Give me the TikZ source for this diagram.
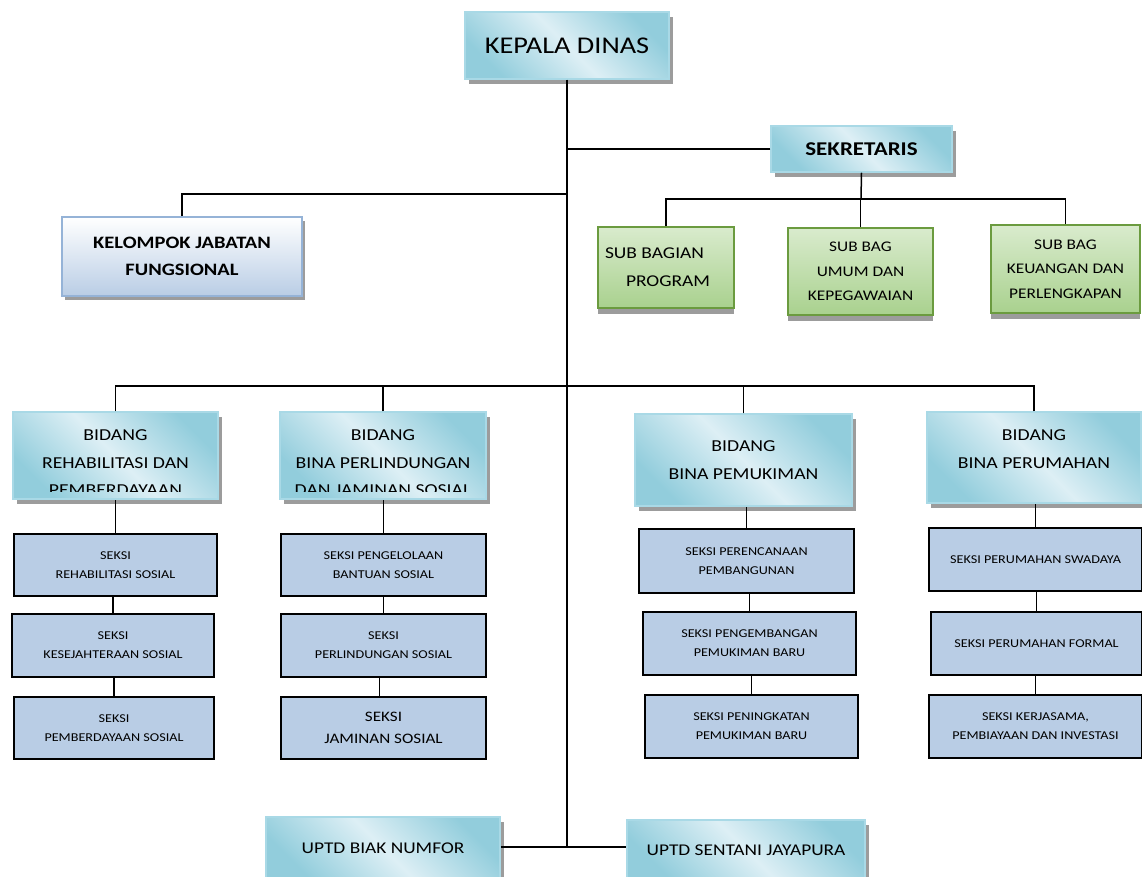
\documentclass[tikz,border=0pt]{standalone}
\usepackage{fontspec}
\setmainfont{Carlito}[FakeStretch=1.18]
\usetikzlibrary{shadows}
\definecolor{cdark}{HTML}{92CDDC}
\definecolor{clight}{HTML}{DDEFF5}
\definecolor{cedge}{HTML}{A9D9E6}
\definecolor{seksifill}{HTML}{B9CDE5}
\definecolor{kjfedge}{HTML}{95B3D7}
\definecolor{kjfbot}{HTML}{B9CDE5}
\definecolor{gtop}{HTML}{D9EBCD}
\definecolor{gbot}{HTML}{A9D18E}
\definecolor{gedge}{HTML}{6B9B3F}
\definecolor{shadowgray}{HTML}{9C9C9C}
\tikzset{
  conn/.style={draw=black, line width=1.5pt},
  cyanbox/.style={rectangle, inner sep=0pt, draw=cedge, line width=1.5pt,
    top color=cdark, bottom color=cdark, middle color=clight, shading angle=-45,
    drop shadow={shadow xshift=4pt, shadow yshift=-5pt, fill=shadowgray, opacity=1}},
  kjfbox/.style={rectangle, inner sep=0pt, draw=kjfedge, line width=1.8pt,
    top color=white, bottom color=kjfbot,
    drop shadow={shadow xshift=3pt, shadow yshift=-4pt, fill=shadowgray, opacity=1}},
  greenbox/.style={rectangle, inner sep=0pt, draw=gedge, line width=1.5pt,
    top color=gtop, bottom color=gbot,
    drop shadow={shadow xshift=0pt, shadow yshift=-6pt, fill=shadowgray, opacity=1}},
  seksibox/.style={rectangle, inner sep=0pt, draw=black, line width=1.6pt, fill=seksifill,
    align=center, font=\fontsize{12}{19}\selectfont},
  bidtxt/.style={inner sep=0pt, align=center, font=\fontsize{16.7}{27.5}\selectfont},
}
\begin{document}
\begin{tikzpicture}[x=1pt, y=-1pt]
\useasboundingbox (0,0) rectangle (1142,877);

% top level
\node[cyanbox, minimum width=204pt, minimum height=67pt, font=\fontsize{24}{28}\selectfont] (kd) at (567,45.5) {KEPALA DINAS};
\node[cyanbox, minimum width=181pt, minimum height=46pt, font=\fontsize{19.5}{22}\selectfont\bfseries] (sek) at (861.5,149) {SEKRETARIS};
\node[kjfbox, minimum width=240pt, minimum height=79pt, align=center, font=\fontsize{17.4}{27}\selectfont\bfseries] (kjf) at (182,256.5) {KELOMPOK JABATAN\\FUNGSIONAL};

% sub bagian
\node[greenbox, minimum width=136pt, minimum height=81pt, text width=122pt, align=flush left, font=\fontsize{16.5}{28}\selectfont] (sb1) at (666,267.5) {SUB BAGIAN\\\hspace*{21pt}PROGRAM};
\node[greenbox, minimum width=145pt, minimum height=87pt, align=center, font=\fontsize{14.7}{24.5}\selectfont] (sb2) at (860.5,271.5) {SUB BAG\\UMUM DAN\\KEPEGAWAIAN};
\node[greenbox, minimum width=149pt, minimum height=88pt, align=center, font=\fontsize{14.7}{24.5}\selectfont] (sb3) at (1065.5,269) {SUB BAG\\KEUANGAN DAN\\PERLENGKAPAN};

% bidang
\node[cyanbox, minimum width=205pt, minimum height=87pt,
  path picture={\clip ([yshift=8pt]path picture bounding box.south west) rectangle (path picture bounding box.north east);
    \node[bidtxt] (b1t) at ([yshift=-7.5pt]path picture bounding box.center) {BIDANG\\REHABILITASI DAN\\PEMBERDAYAAN};}] (b1) at (115.5,455.5) {};
\node[cyanbox, minimum width=206pt, minimum height=87pt,
  path picture={\clip ([yshift=8pt]path picture bounding box.south west) rectangle (path picture bounding box.north east);
    \node[bidtxt] (b2t) at ([yshift=-7.5pt]path picture bounding box.center) {BIDANG\\BINA PERLINDUNGAN\\DAN JAMINAN SOSIAL};}] (b2) at (383,455.5) {};
\node[cyanbox, minimum width=217pt, minimum height=92pt,
  path picture={\node[bidtxt] (b3t) at ([yshift=0pt]path picture bounding box.center) {BIDANG\\BINA PEMUKIMAN};}] (b3) at (743.5,460) {};
\node[cyanbox, minimum width=214pt, minimum height=91pt,
  path picture={\node[bidtxt] (b4t) at ([yshift=8.5pt]path picture bounding box.center) {BIDANG\\BINA PERUMAHAN};}] (b4) at (1034,457.5) {};

% seksi column 1
\node[seksibox, minimum width=203pt, minimum height=62pt] (s11) at (115.5,565) {SEKSI\\REHABILITASI SOSIAL};
\node[seksibox, minimum width=202pt, minimum height=63pt] (s12) at (113,645.5) {SEKSI\\KESEJAHTERAAN SOSIAL};
\node[seksibox, minimum width=200pt, minimum height=62pt] (s13) at (114,728) {SEKSI\\PEMBERDAYAAN SOSIAL};
% column 2
\node[seksibox, minimum width=205pt, minimum height=62pt] (s21) at (383.5,565) {SEKSI PENGELOLAAN\\BANTUAN SOSIAL};
\node[seksibox, minimum width=205pt, minimum height=63pt] (s22) at (383.5,645.5) {SEKSI\\PERLINDUNGAN SOSIAL};
\node[seksibox, minimum width=205pt, minimum height=62pt, font=\fontsize{14.5}{22}\selectfont] (s23) at (383.5,728) {SEKSI\\JAMINAN SOSIAL};
% column 3
\node[seksibox, minimum width=215pt, minimum height=64pt] (s31) at (746.5,561) {SEKSI PERENCANAAN\\PEMBANGUNAN};
\node[seksibox, minimum width=213pt, minimum height=63pt] (s32) at (749.5,643.5) {SEKSI PENGEMBANGAN\\PEMUKIMAN BARU};
\node[seksibox, minimum width=213pt, minimum height=63pt] (s33) at (751.5,726.5) {SEKSI PENINGKATAN\\PEMUKIMAN BARU};
% column 4
\node[seksibox, minimum width=213pt, minimum height=63pt] (s41) at (1035.5,559.5) {SEKSI PERUMAHAN SWADAYA};
\node[seksibox, minimum width=211pt, minimum height=63pt] (s42) at (1036.5,643.5) {SEKSI PERUMAHAN FORMAL};
\node[seksibox, minimum width=213pt, minimum height=63pt] (s43) at (1035.5,726.5) {SEKSI KERJASAMA,\\PEMBIAYAAN DAN INVESTASI};

% UPTD
\node[cyanbox, minimum width=234pt, minimum height=62pt, font=\fontsize{16.4}{20}\selectfont] (u1) at (383,848) {UPTD BIAK NUMFOR};
\node[cyanbox, minimum width=238pt, minimum height=60pt, font=\fontsize{16.4}{20}\selectfont] (u2) at (746,850) {UPTD SENTANI JAYAPURA};

% junction coordinates
\coordinate (cK) at (567,194);
\coordinate (cS) at (861,199);
\coordinate (cB) at (567,386);
\coordinate (cU) at (567,847);

% connectors
\draw[conn] (kd.south) -- (cU);
\draw[conn] (sek.west) -- (sek.west -| kd.south);
\draw[conn] (kjf.north) |- (cK);
\draw[conn] (sek.south) -- (cS);
\draw[conn] (sb1.north) |- (cS);
\draw[conn] (sb3.north) |- (cS);
\draw[conn] (sb2.north) -- (sb2.north |- cS);
\draw[conn] (b1.north) |- (cB);
\draw[conn] (b4.north) |- (cB);
\draw[conn] (b2.north) -- (b2.north |- cB);
\draw[conn] (b3.north) -- (b3.north |- cB);
\draw[conn] (s11.north) -- (s11.north |- b1.south);
\draw[conn] (s12.north) -- (s12.north |- s11.south);
\draw[conn] (s13.north) -- (s13.north |- s12.south);
\draw[conn] (s21.north) -- (s21.north |- b2.south);
\draw[conn] (s22.north) -- (s22.north |- s21.south);
\draw[conn] ([xshift=-4pt]s23.north) -- ([xshift=-4pt]s23.north |- s22.south);
\draw[conn] (s31.north) -- (s31.north |- b3.south);
\draw[conn] (s32.north) -- (s32.north |- s31.south);
\draw[conn] (s33.north) -- (s33.north |- s32.south);
\draw[conn] (s41.north) -- (s41.north |- b4.south);
\draw[conn] (s42.north) -- (s42.north |- s41.south);
\draw[conn] (s43.north) -- (s43.north |- s42.south);
\draw[conn] (u1.east |- cU) -- (u2.west |- cU);
\end{tikzpicture}
\end{document}
